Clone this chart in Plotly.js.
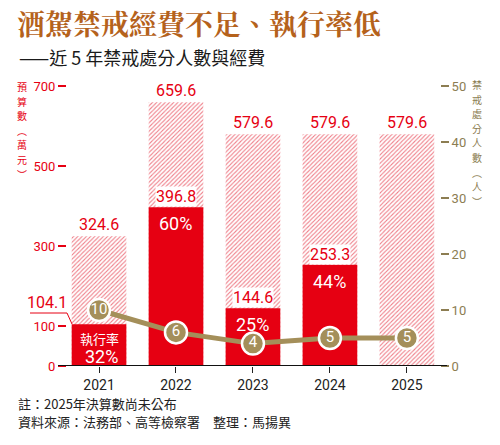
<!DOCTYPE html>
<html>
<head>
<meta charset="utf-8">
<script src="https://cdn.plot.ly/plotly-3.0.1.min.js"></script>
<style>
  body { margin: 0; background: #fff; }
  #chart { width: 500px; height: 445px; }
</style>
</head>
<body>
<div id="chart"></div>
<script>
// values
const years = ['2021', '2022', '2023', '2024', '2025'];
const budget = [324.6, 659.6, 579.6, 579.6, 579.6];   // 預算數 (萬元)
const spent = [104.1, 396.8, 144.6, 253.3, null];      // 決算數 (萬元)
const execRate = [32, 60, 25, 44, null];               // 執行率 (%)
const persons = [10, 6, 4, 5, 5];                      // 禁戒處分人數
const leftTicks = [0, 100, 300, 500, 700];
const rightTicks = [0, 10, 20, 30, 40, 50];

const RED = '#e60012';
const GOLD = '#a48f5a';
const AXIS_GOLD = '#8c7d52';
const numFont = 'Roboto, "Noto Sans", sans-serif';
const cjkFont = '"Noto Sans CJK TC", "Noto Sans", sans-serif';

// plot box in pixels, used to place loose texts
const L = 67, T = 86, W = 373, H = 280;
function px2x(px) { return (px - L) / W; }
function px2y(py) { return (T + H - py) / H; }

// stacked characters, one small annotation each
function verticalTitle(text, xpx, ytop, step, color, size) {
  return Array.from(text).map(function (ch, k) {
    return {
      xref: 'paper', yref: 'paper', x: px2x(xpx), y: px2y(ytop + k * step),
      xanchor: 'center', yanchor: 'top', showarrow: false, borderpad: 0,
      text: ch, font: { family: cjkFont, size: size, color: color }
    };
  });
}

let budgetBars = {
  x: years, y: budget, type: 'bar', width: 0.71, hoverinfo: 'skip',
  marker: {
    color: 'white',
    line: { width: 0 },
    pattern: { shape: '/', fgcolor: '#ef7f8a', bgcolor: 'white', size: 3, solidity: 0.35 }
  }
};

let spentBars = {
  x: years, y: spent, type: 'bar', width: 0.71, hoverinfo: 'skip',
  marker: { color: RED, line: { width: 0 } }
};

let personLine = {
  x: years, y: persons, yaxis: 'y2', type: 'scatter', mode: 'lines+markers+text',
  text: persons.map(String), textposition: 'middle center',
  textfont: { family: numFont, size: 15, color: 'white' },
  line: { color: GOLD, width: 5 },
  marker: { size: 22, color: GOLD, line: { color: 'white', width: 2.5 } },
  cliponaxis: false, hoverinfo: 'skip'
};

let annotations = [];

// budget labels above hatched bars (category axis: x is the index)
for (let i = 0; i < years.length; i++) {
  annotations.push({
    x: i, y: budget[i], yanchor: 'bottom', yshift: 0, showarrow: false,
    text: budget[i].toFixed(1),
    font: { family: numFont, size: 16, color: RED }
  });
}

// spent labels and execution rate
for (let i = 0; i < years.length; i++) {
  if (spent[i] == null) continue;
  if (i == 0) {
    annotations.push({
      x: i, y: spent[i], yanchor: 'bottom', xshift: -52, yshift: 10, showarrow: false,
      text: spent[i].toFixed(1), font: { family: numFont, size: 16, color: RED }
    });
    annotations.push({
      x: i, y: spent[i], yanchor: 'top', yshift: -3, showarrow: false,
      text: '執行率', font: { family: cjkFont, size: 13, color: 'white' }
    });
    annotations.push({
      x: i, y: spent[i], yanchor: 'top', xshift: 2, yshift: -20, showarrow: false,
      text: execRate[i] + '%', font: { family: numFont, size: 18, color: 'white' }
    });
  } else {
    annotations.push({
      x: i, y: spent[i], yanchor: 'bottom', yshift: 0, showarrow: false,
      bgcolor: 'white', borderpad: 0,
      text: spent[i].toFixed(1), font: { family: numFont, size: 16, color: RED }
    });
    annotations.push({
      x: i, y: spent[i], yanchor: 'top', yshift: -4, showarrow: false,
      text: execRate[i] + '%', font: { family: numFont, size: 18, color: 'white' }
    });
  }
}

// axis titles, written top to bottom
annotations = annotations.concat(verticalTitle('預算數︵萬元︶', 22, 78, 14.6, RED, 10));
annotations = annotations.concat(verticalTitle('禁戒處分人數︵人︶', 477, 76, 14.6, AXIS_GOLD, 10));

// subtitle and notes
annotations.push({
  xref: 'paper', yref: 'paper', x: px2x(17), y: px2y(57), xanchor: 'left', yanchor: 'middle',
  showarrow: false, text: '——近 5 年禁戒處分人數與經費',
  font: { family: cjkFont, size: 18, color: '#1a1a1a' }
});
annotations.push({
  xref: 'paper', yref: 'paper', x: px2x(16), y: px2y(403), xanchor: 'left', yanchor: 'middle',
  showarrow: false, text: '註：2025年決算數尚未公布',
  font: { family: cjkFont, size: 13, color: '#222' }
});
annotations.push({
  xref: 'paper', yref: 'paper', x: px2x(16), y: px2y(421), xanchor: 'left', yanchor: 'middle',
  showarrow: false, text: '資料來源：法務部、高等檢察署　整理：馬揚異',
  font: { family: cjkFont, size: 13, color: '#222' }
});

let shapes = [
  // baseline
  { type: 'line', xref: 'paper', yref: 'y', x0: px2x(58), x1: px2x(447), y0: 0, y1: 0,
    line: { color: '#111', width: 2 }, layer: 'above' },
  // leader under the 2021 spent label
  { type: 'path', xref: 'paper', yref: 'paper',
    path: 'M ' + px2x(30) + ',' + px2y(313) + ' L ' + px2x(67) + ',' + px2y(313) +
          ' L ' + px2x(72) + ',' + px2y(324),
    line: { color: RED, width: 1 }, layer: 'above' }
];

let layout = {
  width: 500, height: 445,
  margin: { l: L, r: 500 - L - W, t: T, b: 445 - T - H },
  paper_bgcolor: 'white', plot_bgcolor: 'white',
  showlegend: false, barmode: 'overlay',
  title: {
    text: '酒駕禁戒經費不足、執行率低',
    x: 17 / 500, xanchor: 'left', xref: 'container',
    y: 1 - 25 / 445, yanchor: 'middle', yref: 'container',
    font: { family: '"Noto Serif CJK TC", ' + cjkFont, size: 28, color: '#b5621c', weight: 'bold' }
  },
  xaxis: {
    type: 'category', range: [-0.416, 4.43], fixedrange: true,
    showgrid: false, zeroline: false, showline: false,
    ticks: 'outside', ticklen: 6, tickwidth: 1, tickcolor: '#222',
    tickfont: { family: numFont, size: 14, color: '#222' }
  },
  yaxis: {
    range: [0, 700], tickvals: leftTicks, fixedrange: true,
    showgrid: false, zeroline: false, showline: false,
    ticks: 'outside', ticklen: 8, tickwidth: 1.2, tickcolor: RED,
    tickfont: { family: numFont, size: 13, color: RED }
  },
  yaxis2: {
    range: [0, 50], tickvals: rightTicks, overlaying: 'y', side: 'right', fixedrange: true,
    showgrid: false, zeroline: false, showline: false,
    ticks: 'outside', ticklen: 8, tickwidth: 1.2, tickcolor: AXIS_GOLD,
    tickfont: { family: numFont, size: 13, color: AXIS_GOLD }
  },
  annotations: annotations,
  shapes: shapes
};

Plotly.newPlot('chart', [budgetBars, spentBars, personLine], layout, { displayModeBar: false, staticPlot: true });
</script>
</body>
</html>
